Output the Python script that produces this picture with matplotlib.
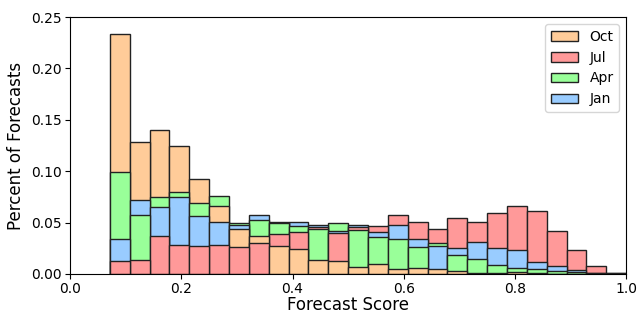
import matplotlib
matplotlib.use("Agg")
import matplotlib.pyplot as plt
import numpy as np

# 26 equal bins from 1/14 up to 1.0
bin_edges = np.linspace(1 / 14, 1.0, 27)

months = ["Oct", "Jul", "Apr", "Jan"]
colors = {"Oct": "#ffcc99", "Jul": "#ff9999", "Apr": "#99ff99", "Jan": "#99ccff"}

# fraction of forecasts per bin
oct_vals = [0.234, 0.128, 0.140, 0.125, 0.092, 0.066, 0.044, 0.037, 0.027, 0.024,
            0.014, 0.013, 0.0066, 0.0097, 0.0045, 0.0055, 0.0053, 0.0025, 0.0008, 0.0010,
            0.0020, 0.0008, 0.0004, 0.0003, 0.0002, 0.0002]
jul_vals = [0.013, 0.014, 0.037, 0.028, 0.027, 0.028, 0.026, 0.030, 0.0386, 0.041,
            0.0458, 0.040, 0.0455, 0.0465, 0.057, 0.051, 0.044, 0.054, 0.051, 0.059,
            0.066, 0.061, 0.042, 0.023, 0.0082, 0.0006]
apr_vals = [0.0995, 0.057, 0.075, 0.080, 0.069, 0.076, 0.050, 0.053, 0.0496, 0.047,
            0.044, 0.050, 0.0428, 0.0357, 0.0344, 0.0266, 0.0298, 0.0185, 0.0143, 0.0083,
            0.0060, 0.0050, 0.0028, 0.0024, 0.0010, 0.0004]
jan_vals = [0.034, 0.072, 0.0655, 0.075, 0.0564, 0.051, 0.0475, 0.0574, 0.0502, 0.0503,
            0.0477, 0.042, 0.048, 0.0412, 0.0474, 0.0337, 0.0274, 0.0256, 0.0308, 0.0256,
            0.0229, 0.012, 0.0080, 0.0039, 0.0012, 0.0005]

data = {"Oct": oct_vals, "Jul": jul_vals, "Apr": apr_vals, "Jan": jan_vals}

fig = plt.figure(figsize=(6.37, 3.16), dpi=100)
ax = fig.add_axes([0.110, 0.133, 0.873, 0.813])

lefts = bin_edges[:-1]
width = np.diff(bin_edges)

bars = {}
for m in months:
    bars[m] = ax.bar(lefts, data[m], width=width, align="edge", color=colors[m],
                     edgecolor="#222222", linewidth=1.0, label=m)

# overlapping bars: in every bin the tallest goes to the back
for m in months:
    for patch, h in zip(bars[m].patches, data[m]):
        patch.set_zorder(2 - h)

ax.set_xlim(0, 1.0)
ax.set_ylim(0, 0.25)
ax.set_xticks([0.0, 0.2, 0.4, 0.6, 0.8, 1.0])
ax.set_yticks([0.0, 0.05, 0.10, 0.15, 0.20, 0.25])
ax.tick_params(labelsize=10, pad=2.5)
ax.set_xlabel("Forecast Score", fontsize=12, labelpad=0)
ax.set_ylabel("Percent of Forecasts", fontsize=12, labelpad=4)

ax.legend(loc="upper right", fontsize=10)

fig.savefig("out.png", dpi=100)
